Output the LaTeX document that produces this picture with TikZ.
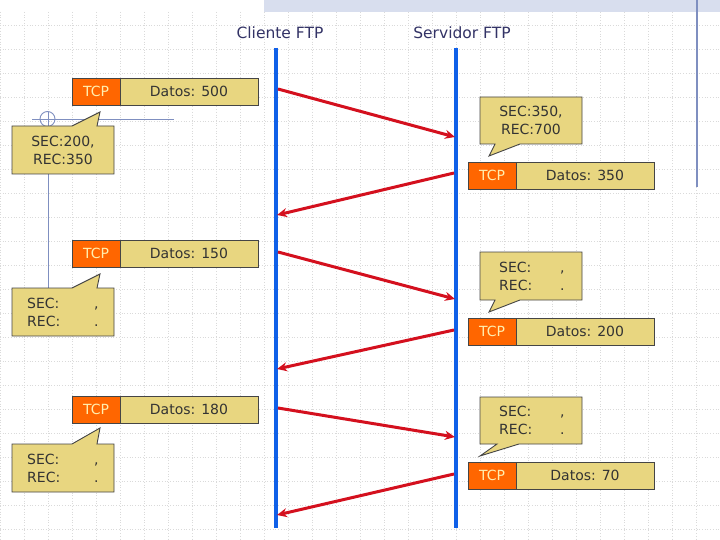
\documentclass[tikz,border=0pt]{standalone}
\usepackage{fontspec}
\setmainfont{DejaVu Sans}
\usetikzlibrary{arrows.meta}
\definecolor{gridc}{HTML}{DADADA}
\definecolor{bandc}{HTML}{D8DEEE}
\definecolor{decoc}{HTML}{7F8FC0}
\definecolor{lifec}{HTML}{1060E8}
\definecolor{arrc}{HTML}{D4101E}
\definecolor{tcpc}{HTML}{FF6600}
\definecolor{tcptext}{HTML}{FFEFB0}
\definecolor{khaki}{HTML}{E8D680}
\definecolor{edgec}{HTML}{454545}
\definecolor{txtc}{HTML}{333333}
\definecolor{titlec}{HTML}{333366}
\tikzset{
  tcpbox/.style={draw=edgec, line width=0.9pt, fill=tcpc, text=tcptext, minimum width=48pt, minimum height=27pt, inner sep=0pt, font=\fontsize{14}{16}\selectfont},
  datbox/.style={draw=edgec, line width=0.9pt, fill=khaki, text=txtc, minimum width=138pt, minimum height=27pt, inner sep=0pt, font=\fontsize{14}{16}\selectfont},
  callout/.style={draw=edgec, line width=0.9pt, fill=khaki},
  ctext/.style={text=txtc, inner sep=0pt, font=\fontsize{14}{18}\selectfont},
  title/.style={text=titlec, inner sep=0pt, font=\fontsize{15.5}{18}\selectfont},
  life/.style={draw=lifec, line width=4pt},
  msg/.style={draw=arrc, line width=3pt, -{Stealth[length=10pt,width=9pt]}},
  gridl/.style={draw=gridc, line width=0.7pt, dotted}
}
\begin{document}
\begin{tikzpicture}[x=1pt,y=-1pt]
\useasboundingbox (0,0) rectangle (720,540);
\fill[white] (0,0) rectangle (720,540);
% grid
\foreach \gx in {0,24,...,720} \draw[gridl] (\gx,12) -- (\gx,540);
\foreach \gy in {25,49,...,540} \draw[gridl] (0,\gy) -- (720,\gy);
% decorations
\fill[bandc] (264,0) rectangle (720,12);
\draw[decoc, line width=1.2pt] (697,0) -- (697,187);
\draw[decoc, line width=0.9pt] (32,119) -- (174,119);
\draw[decoc, line width=0.9pt] (48,112) -- (48,300);
\draw[decoc, line width=0.9pt] (47.5,119) circle (7.5);
% titles
\node[title] (tc) at (280,33) {Cliente FTP};
\node[title] (ts) at (462,33) {Servidor FTP};
% lifelines
\coordinate (c0) at (276,48); \coordinate (c1) at (276,528);
\coordinate (s0) at (456,48); \coordinate (s1) at (456,528);
\draw[life] (c0) -- (c1);
\draw[life] (s0) -- (s1);
% message endpoints
\coordinate (a1s) at (278,89);  \coordinate (a1e) at (455,137);
\coordinate (a2s) at (454,173); \coordinate (a2e) at (277,215);
\coordinate (a3s) at (278,252); \coordinate (a3e) at (455,299);
\coordinate (a4s) at (454,330); \coordinate (a4e) at (277,369);
\coordinate (a5s) at (278,408); \coordinate (a5e) at (455,437);
\coordinate (a6s) at (454,474); \coordinate (a6e) at (277,515);
\foreach \k in {1,...,6} \draw[msg] (a\k s) -- (a\k e);
% left packets
\node[tcpbox] (lt1) at (96,91.5) {TCP};
\node[datbox] (ld1) at (189,91.5) {Datos: 500};
\node[tcpbox] (lt2) at (96,253.5) {TCP};
\node[datbox] (ld2) at (189,253.5) {Datos: 150};
\node[tcpbox] (lt3) at (96,409.5) {TCP};
\node[datbox] (ld3) at (189,409.5) {Datos: 180};
% right packets
\node[tcpbox] (rt1) at (492,175.5) {TCP};
\node[datbox] (rd1) at (585,175.5) {Datos: 350};
\node[tcpbox] (rt2) at (492,331.5) {TCP};
\node[datbox] (rd2) at (585,331.5) {Datos: 200};
\node[tcpbox] (rt3) at (492,475.5) {TCP};
\node[datbox] (rd3) at (585,475.5) {Datos: 70};
% left callouts
\draw[callout] (12,126) -- (72,126) -- (100,112) -- (97,126) -- (114,126) -- (114,174) -- (12,174) -- cycle;
\node[ctext, align=center] (lc1) at (63,150) {SEC:200,\\REC:350};
\draw[callout] (12,288) -- (72,288) -- (100,274) -- (97,288) -- (114,288) -- (114,336) -- (12,336) -- cycle;
\node[ctext, align=left, anchor=west] (lc2) at (27,312) {\makebox[67pt][l]{SEC:},\\\makebox[67pt][l]{REC:}.};
\draw[callout] (12,444) -- (72,444) -- (100,428) -- (97,444) -- (114,444) -- (114,492) -- (12,492) -- cycle;
\node[ctext, align=left, anchor=west] (lc3) at (27,468) {\makebox[67pt][l]{SEC:},\\\makebox[67pt][l]{REC:}.};
% right callouts
\draw[callout] (480,97) -- (582,97) -- (582,144) -- (520,144) -- (489,156) -- (495,144) -- (480,144) -- cycle;
\node[ctext, align=center] (rc1) at (531,120.5) {SEC:350,\\REC:700};
\draw[callout] (480,252) -- (582,252) -- (582,300) -- (520,300) -- (489,312) -- (495,300) -- (480,300) -- cycle;
\node[ctext, align=left, anchor=west] (rc2) at (499,276) {\makebox[61pt][l]{SEC:},\\\makebox[61pt][l]{REC:}.};
\draw[callout] (480,397) -- (582,397) -- (582,444) -- (519,444) -- (480,456) -- (497,444) -- (480,444) -- cycle;
\node[ctext, align=left, anchor=west] (rc3) at (499,420.5) {\makebox[61pt][l]{SEC:},\\\makebox[61pt][l]{REC:}.};
\end{tikzpicture}
\end{document}
